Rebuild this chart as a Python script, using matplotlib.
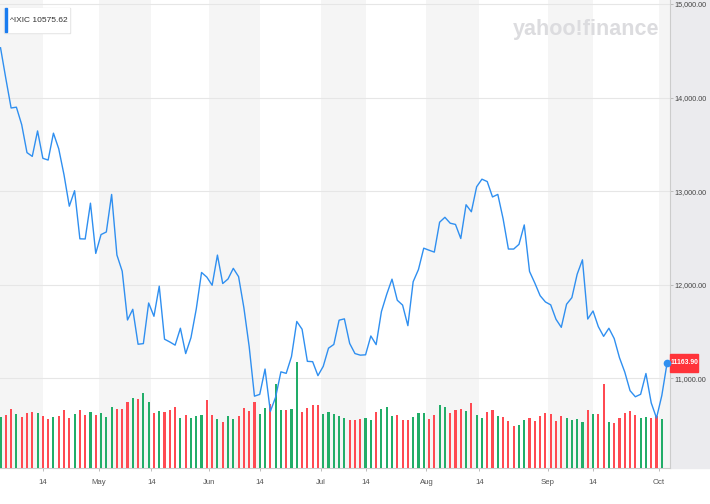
import numpy as np
import matplotlib.pyplot as plt
from matplotlib.patches import Rectangle
from matplotlib.transforms import blended_transform_factory

plt.rcParams['font.family'] = ['Liberation Sans', 'DejaVu Sans']

# daily closes, 4 Apr .. 4 Oct (trading days only)
closes = [
    14532.55, 14204.17, 13888.82, 13897.30, 13711.00, 13411.96, 13371.57, 13643.59, 13351.08,
    13332.36, 13619.66, 13453.07, 13174.65, 12839.29, 13004.85, 12490.74, 12488.93, 12871.53, 12334.64,
    12536.02, 12563.76, 12964.86, 12317.69, 12144.66, 11623.25, 11737.67, 11364.24, 11370.96, 11805.00,
    11662.79, 11984.52, 11418.15, 11388.50, 11354.62, 11535.27, 11264.45, 11434.74, 11740.65, 12131.13,
    12081.39,
    11994.46, 12316.90, 12012.73, 12061.37, 12175.23, 12086.27, 11754.23, 11340.02, 10809.23, 10828.35,
    11099.15, 10646.10, 10798.35, 11069.30, 11053.08, 11232.19, 11607.62, 11524.55, 11181.54, 11177.89,
    11028.74,
    11127.85, 11322.24, 11361.85, 11621.35, 11635.31, 11372.60, 11264.73, 11247.58, 11251.19, 11452.42,
    11360.05, 11713.15, 11897.65, 12059.61, 11834.11, 11782.67, 11562.58, 12032.42, 12162.59, 12390.69,
    12368.98, 12348.76, 12668.16, 12720.58, 12657.55, 12644.46, 12493.93, 12854.81, 12779.91, 13047.19,
    13128.05, 13102.55, 12938.12, 12965.34, 12705.22, 12381.57, 12381.30, 12431.53, 12639.27, 12141.71,
    12017.67, 11883.14, 11816.20,
    11785.13, 11630.86, 11544.91, 11791.90, 11862.13, 12112.31, 12266.41, 11633.57, 11719.68,
    11552.36, 11448.40, 11535.02, 11425.05, 11220.19, 11066.81, 10867.93, 10802.92, 10829.50, 11051.64,
    10737.51, 10575.62,
    10815.43, 11163.90,
]

# volume, billions of shares (no bar yet for the last day)
volumes = [
    5.1, 5.3, 5.9, 5.4, 5.1, 5.5, 5.6, 5.5, 5.2, 4.9, 5.1, 5.2, 5.8, 5.0, 5.4, 5.8, 5.3, 5.6, 5.3,
    5.5, 5.1, 6.1, 5.9, 5.9, 6.6, 7.0, 6.9, 7.5, 6.6, 5.5, 5.7, 5.6, 5.8, 6.1, 5.0, 5.3, 5.0, 5.2, 5.3,
    6.8, 5.3, 4.9, 4.6, 5.2, 4.9, 5.2, 6.0, 5.7, 6.6, 5.4, 6.0, 6.4, 8.4, 5.8, 5.8, 5.9, 10.6, 5.6,
    6.0, 6.3, 6.3, 5.4, 5.6, 5.4, 5.2, 5.0, 4.8, 4.8, 4.9, 5.0, 4.8, 5.6, 5.9, 6.1, 5.2, 5.3, 4.8,
    4.8, 5.1, 5.5, 5.5, 4.9, 5.3, 6.3, 6.1, 5.5, 5.8, 5.9, 5.7, 6.5, 5.3, 5.0, 5.6, 5.8, 5.2, 5.1,
    4.7, 4.2, 4.3, 4.8, 5.0, 4.7, 5.2, 5.5, 5.4, 4.7, 5.2, 5.0, 4.8, 4.9, 4.6, 5.8, 5.4, 5.4, 8.4,
    4.6, 4.5, 5.0, 5.5, 5.7, 5.3, 5.0, 5.1, 5.0, 5.2, 4.9,
]

tick_labels = ['14', 'May', '14', 'Jun', '14', 'Jul', '14', 'Aug', '14', 'Sep', '14', 'Oct']
tick_pos = [8, 18.6, 28.5, 39.5, 49, 60.5, 69, 80.5, 90.5, 103.5, 112, 124.5]

ticker = '^IXIC'
ticker_value = 10575.62

line_color = '#2f8ff0'
up_color = '#22ad68'
down_color = '#ff4a52'

W, H = 710, 504


def fx(x):
    return x / W


def fy(y):
    return 1 - y / H


closes = np.array(closes)
idx = np.arange(len(closes))
xmin, xmax = -0.1, 126.55
ymin, ymax = 10041.7, 15042.7

fig = plt.figure(figsize=(W / 100, H / 100), dpi=100)
fig.add_artist(Rectangle((fx(670), fy(468)), 1 - fx(670), 468 / H, transform=fig.transFigure,
                         color='#ebebee', zorder=-1))

ax = fig.add_axes([0, fy(468), fx(670), 468 / H])
axv = ax.twinx()
axp = ax.twinx()

# month / mid-month bands
edges = [xmin] + tick_pos + [xmax]
for i in range(0, len(edges) - 1, 2):
    ax.axvspan(edges[i], edges[i + 1], color='#f5f5f5', lw=0, zorder=0)

ax.set_xlim(xmin, xmax)
ax.set_ylim(ymin, ymax)
ax.yaxis.tick_right()
ax.set_yticks([11000, 12000, 13000, 14000, 15000])
ax.yaxis.set_major_formatter(lambda v, p: f'{v:,.2f}')
ax.grid(axis='y', color='#e6e6e6', lw=0.8)
ax.set_axisbelow(True)
ax.set_xticks(tick_pos, tick_labels)
ax.tick_params(axis='y', length=2.2, width=0.7, color='#bbbbbb', pad=1, labelsize=5.2, labelcolor='#444444')
ax.tick_params(axis='x', length=2.2, width=0.7, color='#bbbbbb', pad=6, labelsize=5.6, labelcolor='#555555')
for s in ['top', 'left']:
    ax.spines[s].set_visible(False)
for s in ['right', 'bottom']:
    ax.spines[s].set_color('#cccccc')
    ax.spines[s].set_linewidth(0.8)

# volume
up = np.r_[True, closes[1:] >= closes[:-1]]
vol_colors = [up_color if u else down_color for u in up[:len(volumes)]]
axv.bar(idx[:len(volumes)], volumes, width=0.4, color=vol_colors, lw=0)
axv.set_ylim(0, 46.8)
axv.axis('off')

# price
axp.plot(idx, closes, color=line_color, lw=1.0)
axp.plot(idx[-1], closes[-1], 'o', ms=4.5, color=line_color, clip_on=False, zorder=5)
axp.set_ylim(ymin, ymax)
axp.set_xlim(xmin, xmax)
axp.axis('off')

# last price tag on the right axis
tag = blended_transform_factory(ax.transAxes, ax.transData)
ax.add_patch(Rectangle((1.0, closes[-1] - 100), 28 / 670, 200, transform=tag,
                       color='#ff333a', clip_on=False, zorder=4))
ax.text(1.0 + 14 / 670, closes[-1], f'{closes[-1]:.2f}', transform=tag, ha='center', va='center',
        color='white', fontsize=4.9, fontweight='bold', clip_on=False, zorder=5)

# ticker label box
fig.add_artist(Rectangle((fx(4), fy(33)), fx(66), 25 / H, transform=fig.transFigure,
                         color='#e4e4e4', zorder=3))
fig.add_artist(Rectangle((fx(5), fy(32)), fx(64), 24 / H, transform=fig.transFigure,
                         color='white', zorder=3))
fig.add_artist(Rectangle((fx(5), fy(32)), fx(2.3), 24 / H, transform=fig.transFigure,
                         color='#1a7cf0', zorder=4))
fig.text(fx(10.5), fy(21), f'{ticker} {ticker_value:.2f}', ha='left', va='center',
         fontsize=6.0, color='#333333', zorder=5)

# watermark
fig.text(fx(513), fy(35), 'yahoo!finance', ha='left', va='baseline', fontsize=15.5,
         fontweight='bold', color='#dcdcdf', zorder=2)

fig.savefig('out.png', dpi=100)
